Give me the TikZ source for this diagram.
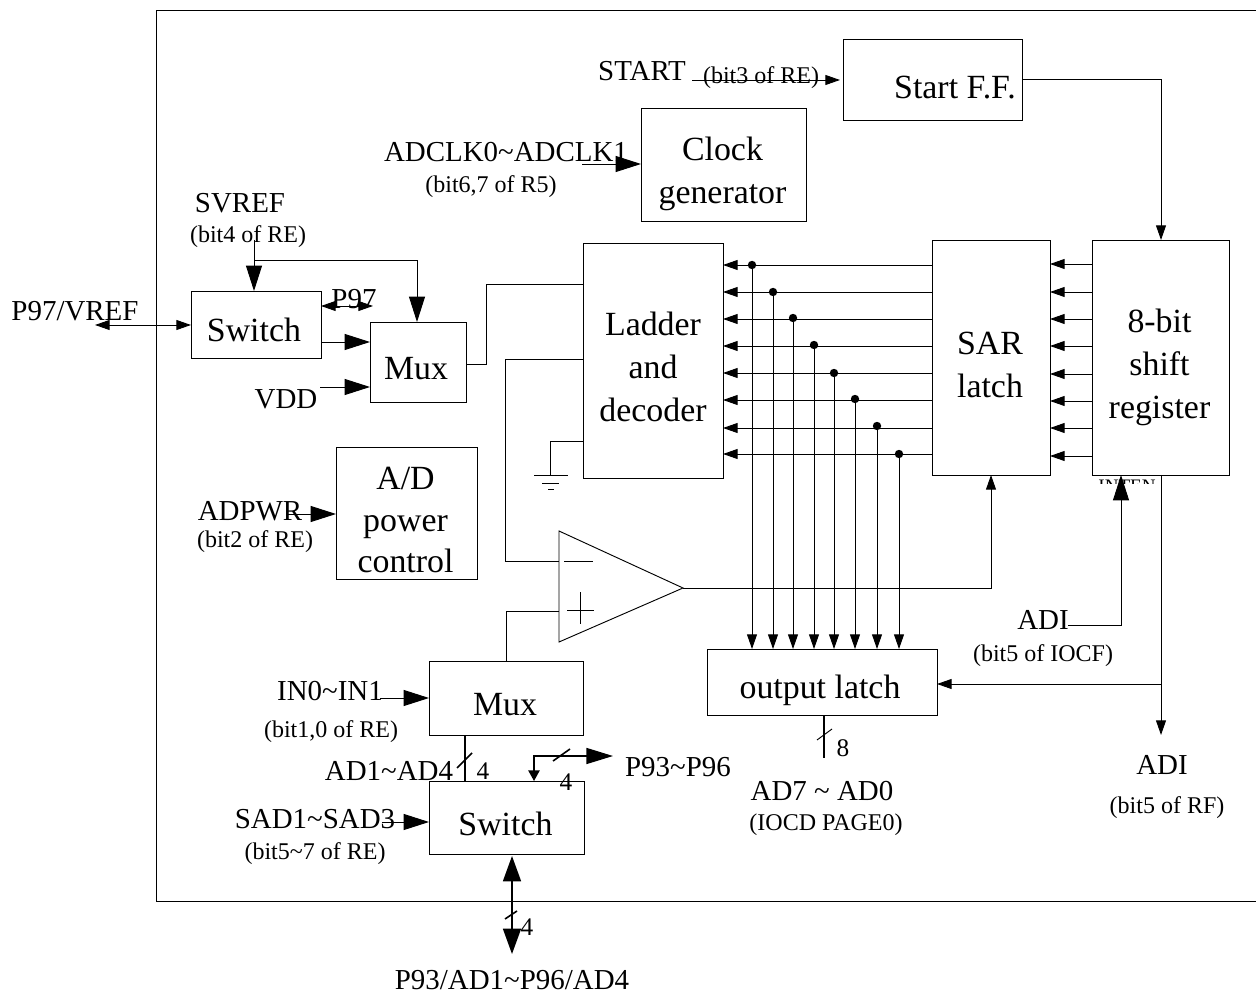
\documentclass[tikz,border=0pt]{standalone}
\usepackage{fontspec}
\setmainfont{Liberation Serif}
\usetikzlibrary{arrows.meta}
\newcommand{\tld}{\textasciitilde}
% text dx, text dy in px, x0 y0 x1 y1, name, text
\newcommand{\blk}[8]{%
  \node[blkbox,minimum width={(#5-#3)*0.75pt},minimum height={(#6-#4)*0.75pt}] (#7) at ({(#3+#5)/2},{(#4+#6)/2}) {};
  \node[blktxt,xshift={(#1)*0.75pt},yshift={-(#2)*0.75pt}] (#7t) at (#7) {#8};}
\tikzset{
  x=0.75pt,y=-0.75pt,
  wire/.style={line width=0.7pt,draw=black},
  thick wire/.style={line width=1.2pt,draw=black},
  sa/.style={wire,-{Triangle[length=11pt,width=7.5pt]}},
  sab/.style={wire,{Triangle[length=11pt,width=7.5pt]}-{Triangle[length=11pt,width=7.5pt]}},
  ba/.style={wire,-{Triangle[length=19pt,width=12pt]}},
  blkbox/.style={draw=black,line width=0.7pt,inner sep=0pt,outer sep=0pt},
  blktxt/.style={inner sep=0pt,align=center,font=\fontsize{25.4}{32.25}\selectfont},
  midl/.style={inner sep=0pt,font=\fontsize{21.7}{26}\selectfont},
  smal/.style={inner sep=0pt,yshift=-4.5pt,font=\fontsize{18}{22}\selectfont},
  num/.style={inner sep=0pt,font=\fontsize{19}{22}\selectfont},
  dotm/.style={circle,fill=black,inner sep=0pt,minimum size=6.3pt}
}
\begin{document}
\begin{tikzpicture}
\useasboundingbox (0,0) rectangle (1256,994);
% frame
\coordinate (frTR) at (1256,10);
\coordinate (frTL) at (156,10);
\coordinate (frBL) at (156,901);
\coordinate (frBR) at (1256,901);
\draw[wire] (frTR) -- (frTL) -- (frBL) -- (frBR);
% boxes
\blk{22.5}{8}{843}{39}{1022}{120}{ff}{Start F.F.}
\blk{-1}{9}{641}{108}{806}{221}{clk}{Clock\\generator}
\blk{0}{6}{583}{243}{723}{478}{lad}{Ladder\\and\\decoder}
\blk{-1}{7}{932}{240}{1050}{475}{sar}{SAR\\latch}
\blk{-1}{9.5}{1092}{240}{1229}{475}{shr}{8-bit\\shift\\register}
\blk{-2}{5}{191}{291}{321}{358}{swa}{Switch}
\blk{-2}{7}{370}{322}{466}{402}{mxa}{Mux}
\blk{-1}{7}{336}{447}{477}{579}{pwr}{A/D\\[-1.2pt]power\\[-1.2pt]control}
\blk{-1}{7}{429}{661}{583}{735}{mxb}{Mux}
\blk{-1}{6}{429}{781}{584}{854}{swb}{Switch}
\blk{-2}{8}{707}{649}{937}{715}{olt}{output latch}
% comparator
\coordinate (cpa) at (559,531);
\coordinate (cpb) at (559,642);
\coordinate (cpo) at (683,588);
\draw[wire,line join=miter] (cpa) -- (cpo) -- (cpb) -- cycle;
\coordinate (cpm) at (559,561);
\coordinate (cpp) at (559,611);
\draw[wire] (564,561) -- (593,561);
\draw[wire] (567,610) -- (594,610);
\draw[wire] (580,592) -- (580,624);
% ladder connections
\draw[wire] (mxa.east |- 0,364) -- (486,364) -- (486,284) -- (lad.west |- 0,284);
\draw[wire] (lad.west |- 0,359) -- (505,359) -- (505,561) -- (cpm);
\draw[wire] (cpp) -- (506,611) -- (mxb.north -| 506,0);
% ground
\coordinate (gnd) at (550,475);
\draw[wire] (lad.west |- 0,441.5) -- (550,441.5) -- (gnd);
\draw[wire] (534,475) -- (568,475);
\draw[wire] (542,483) -- (559,483);
\draw[wire] (548,489) -- (554,489);
% sar to ladder with taps
\foreach \ya/\yb/\xd in {265/265/752,292/292/773,319/318/793,346/345/814,373/373/834,400/399/855,428/426/877,454/454/899}{
  \draw[sa] (sar.west |- 0,\ya) -- (lad.east |- 0,\ya);
  \node[dotm] (tap\xd) at (\xd,\yb) {};
  \draw[sa] (tap\xd) -- (olt.north -| tap\xd);
}
% shift to sar
\foreach \y in {264,292,319,346,374,401,428,456}{
  \draw[sa] (shr.west |- 0,\y) -- (sar.east |- 0,\y);
}
% top
\coordinate (stin) at (692,80);
\draw[sa,shorten >=2.25pt] (stin) -- (ff.west |- stin);
\draw[sa] (ff.east |- 0,79) -- (1161,79) -- (shr.north -| 1161,0);
\coordinate (ckin) at (582,164);
\draw[ba] (ckin) -- (clk.west |- ckin);
% svref
\coordinate (svt) at (254,240);
\draw[ba] (svt) -- (swa.north -| svt);
\coordinate (svb) at (254,260);
\draw[ba] (svb) -- (417,260) -- (mxa.north -| 417,0);
\coordinate (vrf) at (95,325);
\draw[sab] (vrf) -- (swa.west |- vrf);
\coordinate (p97) at (373,306);
\draw[sab] (swa.east |- p97) -- (p97);
\draw[ba] (swa.east |- 0,342) -- (mxa.west |- 0,342);
\coordinate (vdd) at (320,387);
\draw[ba] (vdd) -- (mxa.west |- vdd);
\coordinate (pwi) at (287,514);
\draw[ba] (pwi) -- (pwr.west |- pwi);
% comparator output
\draw[sa] (cpo) -- (991,588) -- (sar.south -| 991,0);
% shift register bottom
\coordinate (int) at (1068,625);
\draw[ba] (int) -- (1121,625) -- (shr.south -| 1121,0);
\coordinate (adiE) at (1161,735);
\draw[sa] (shr.south -| adiE) -- (adiE);
\coordinate (adiB) at (1161,684);
\draw[sa] (adiB) -- (olt.east |- adiB);
% output latch bus
\coordinate (oe) at (824,758);
\draw[thick wire] (olt.south -| oe) -- (oe);
\draw[wire] (817,740) -- (832,729);
% lower mux
\coordinate (ini) at (380,698);
\draw[ba] (ini) -- (mxb.west |- ini);
\coordinate (sdi) at (382,822);
\draw[ba] (sdi) -- (swb.west |- sdi);
\draw[thick wire] (mxb.south -| 465,0) -- (swb.north -| 465,0);
\draw[thick wire] (457,768) -- (472,753);
% p93 branch
\coordinate (pbr) at (534,756);
\coordinate (pen) at (613,756);
\draw[thick wire,{Triangle[length=8pt,width=8.5pt]}-{Triangle[length=20pt,width=12pt]}] (swb.north -| pbr) -- (pbr) -- (pen);
\draw[thick wire] (553,761) -- (570,749);
% bidirectional
\coordinate (pdn) at (512,954);
\draw[thick wire,{Triangle[length=19pt,width=13.5pt]}-{Triangle[length=19pt,width=13.5pt]}] (512,856) -- (pdn);
\draw[thick wire] (505,919) -- (517,911);
% labels
\node[midl] (tstart) at (642,71) {START};
\node[smal] (tbit3) at (761,72) {(bit3 of RE)};
\node[midl] (tclk) at (506,152) {ADCLK0\tld ADCLK1};
\node[smal] (tbit6) at (491,181) {(bit6,7 of R5)};
\node[midl] (tsv) at (240,203) {SVREF};
\node[smal] (tbit4) at (248,231) {(bit4 of RE)};
\node[midl] (tvr) at (75,311) {P97/VREF};
\node[midl] (tp97) at (354,299) {P97};
\node[midl] (tvdd) at (286,399) {VDD};
\node[midl] (tpw) at (250,511) {ADPWR};
\node[smal] (tbit2) at (255,536) {(bit2 of RE)};
\node[midl] (tadi) at (1043,620) {ADI};
\node[smal] (tiocf) at (1043,650) {(bit5 of IOCF)};
\node[midl] (tadi2) at (1162,765) {ADI};
\node[smal] (trf) at (1167,802) {(bit5 of RF)};
\node[midl] (tad7) at (822,791) {AD7 \tld{} AD0};
\node[smal] (tiocd) at (826,819) {(IOCD PAGE0)};
\node[midl] (tin) at (330,691) {IN0\tld IN1};
\node[smal] (tbit1) at (331,726) {(bit1,0 of RE)};
\node[midl] (tad1) at (389,771) {AD1\tld AD4};
\node[midl] (tsad) at (315,819) {SAD1\tld SAD3};
\node[smal] (tbit5) at (315,848) {(bit5\tld 7 of RE)};
\node[midl] (tp93) at (678,767) {P93\tld P96};
\node[midl] (tpad) at (512,980) {P93/AD1\tld P96/AD4};
\node[num] (n4a) at (483,771) {4};
\node[num] (n4b) at (566,782) {4};
\node[num] (n4c) at (527,927) {4};
\node[num] (n8) at (843,748) {8};
\begin{scope}
\clip (1090,476) rectangle (1160,484);
\node[inner sep=0pt,font=\fontsize{14.3}{16}\selectfont] (tint) at (1127,486) {INTEN};
\end{scope}
\end{tikzpicture}
\end{document}
